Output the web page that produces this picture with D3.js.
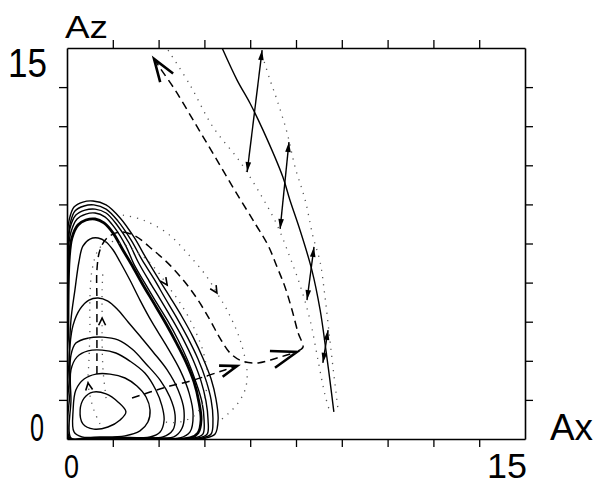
<!DOCTYPE html>
<html>
<head>
<meta charset="utf-8">
<script src="https://cdn.jsdelivr.net/npm/d3@7"></script>
<style>
  body { margin: 0; background: #fff; }
  svg { display: block; }
  text { font-family: "Liberation Sans", Arial, sans-serif; fill: #000; }
</style>
</head>
<body>
<div id="chart"></div>
<script>
// axis ticks (every 1.5) and the two labelled ends
const tickValues = [1.5, 3, 4.5, 6, 7.5, 9, 10.5, 12, 13.5];
const xTickLabels = [[0, '0'], [15, '15']];
const yTickLabels = [[0, '0'], [15, '15']];

// contour levels, inner to outer, [Ax, Az]
const contour1 = [[0.43,1.11],[0.56,1.57],[0.85,1.80],[1.28,1.73],[1.67,1.42],[1.93,1.04],[1.74,0.73],[1.34,0.46],[0.88,0.38],[0.52,0.58]];
const contour2 = [[0.23,0.27],[0.20,1.11],[0.29,1.88],[0.56,2.30],[0.95,2.49],[1.41,2.49],[1.90,2.34],[2.29,2.03],[2.59,1.61],[2.72,1.11],[2.65,0.65],[2.39,0.31],[1.90,0.12],[1.08,0.08],[0.49,0.08]];
const contour3 = [[0.13,0.04],[0.13,1.50],[0.13,2.65],[0.33,3.15],[0.69,3.38],[1.15,3.41],[1.60,3.30],[2.06,2.99],[2.55,2.53],[2.91,1.88],[3.11,1.27],[3.18,0.73],[3.05,0.27],[2.72,0.08],[1.74,0.04],[0.59,0.04]];
const contour4 = [[0.10,0.04],[0.10,1.88],[0.13,3.22],[0.29,3.68],[0.69,3.87],[1.18,3.91],[1.67,3.80],[2.13,3.45],[2.59,2.88],[3.05,2.26],[3.37,1.61],[3.54,0.92],[3.47,0.35],[3.14,0.08],[2.39,0.04],[0.75,0.04]];
const contour5 = [[0.07,0.04],[0.07,2.26],[0.10,3.61],[0.20,4.37],[0.43,4.99],[0.72,5.33],[1.02,5.41],[1.34,5.29],[1.67,4.95],[2.00,4.49],[2.39,3.95],[2.82,3.34],[3.28,2.65],[3.64,1.88],[3.83,1.11],[3.77,0.42],[3.50,0.08],[3.05,0.04],[1.08,0.04]];
const contour6 = [[0.07,0.04],[0.07,3.03],[0.13,4.57],[0.26,5.72],[0.39,6.79],[0.52,7.40],[0.75,7.67],[1.02,7.71],[1.28,7.56],[1.51,7.25],[1.74,6.79],[2.06,6.10],[2.39,5.33],[2.78,4.49],[3.24,3.61],[3.70,2.65],[4.00,1.76],[4.13,0.92],[4.03,0.27],[3.70,0.04],[1.74,0.04]];
const contour7 = [[0.03,0.04],[0.03,4.18],[0.07,6.87],[0.16,7.71],[0.36,8.21],[0.62,8.40],[0.92,8.44],[1.21,8.29],[1.51,7.90],[1.83,7.25],[2.16,6.60],[2.49,5.91],[2.82,5.26],[3.21,4.49],[3.57,3.72],[3.90,2.95],[4.16,2.19],[4.32,1.42],[4.39,0.73],[4.29,0.23],[4.03,0.04],[1.74,0.04]];
const contour8 = [[0.03,0.04],[0.03,4.18],[0.03,7.06],[0.13,7.94],[0.33,8.44],[0.62,8.63],[0.92,8.67],[1.24,8.52],[1.57,8.09],[1.93,7.40],[2.19,6.71],[2.55,5.98],[2.88,5.33],[3.28,4.57],[3.64,3.80],[3.96,2.99],[4.22,2.19],[4.42,1.42],[4.49,0.73],[4.45,0.19],[4.16,0.04],[1.74,0.04]];
const contour9 = [[0.03,0.04],[0.03,4.18],[0.03,7.25],[0.10,8.09],[0.29,8.59],[0.59,8.78],[0.92,8.82],[1.28,8.67],[1.64,8.21],[2.03,7.52],[2.33,6.79],[2.69,6.06],[3.05,5.37],[3.44,4.60],[3.80,3.84],[4.13,3.03],[4.39,2.22],[4.55,1.46],[4.62,0.73],[4.59,0.19],[4.29,0.04],[1.74,0.04]];
const contour10 = [[0.03,0.04],[0.03,4.18],[0.03,7.44],[0.10,8.25],[0.26,8.75],[0.56,8.94],[0.88,8.98],[1.28,8.82],[1.67,8.36],[2.10,7.63],[2.46,6.87],[2.85,6.14],[3.21,5.41],[3.60,4.64],[3.96,3.87],[4.29,3.07],[4.55,2.26],[4.72,1.50],[4.78,0.73],[4.72,0.19],[4.42,0.04],[1.74,0.04]];
const contour11 = [[0.0,0.04],[0.0,4.18],[0.0,7.63],[0.07,8.40],[0.23,8.90],[0.52,9.09],[0.85,9.13],[1.28,8.98],[1.74,8.48],[2.19,7.75],[2.59,6.94],[2.98,6.18],[3.37,5.45],[3.77,4.68],[4.13,3.91],[4.45,3.11],[4.72,2.30],[4.88,1.53],[4.95,0.77],[4.85,0.19],[4.55,0.04],[1.74,0.04]];

// dashed trajectories (arrow at the last point)
const dashA = [[7.57,3.38],[7.73,3.53],[7.57,4.07],[7.37,4.95],[7.14,5.83],[6.88,6.60],[6.58,7.44],[6.19,8.21],[5.53,9.47],[4.85,10.82],[4.19,12.12],[3.54,13.39],[3.05,14.23],[2.85,14.58]];
const dashB = [[0.98,2.49],[0.98,3.80],[0.98,5.33],[0.98,6.48],[1.08,7.25],[1.31,7.71],[1.74,7.94],[2.23,7.79],[2.82,7.25],[3.37,6.67],[3.86,6.02],[4.29,5.33],[4.68,4.57],[5.01,3.87],[5.34,3.30],[5.73,2.99],[6.26,2.92],[6.88,3.11],[7.53,3.34]];
const dashC = [[2.13,1.57],[2.72,1.80],[3.37,2.03],[4.03,2.22],[4.68,2.46],[5.17,2.65],[5.57,2.80]];

// solid curve and the double-headed arrows across it
const solidCurve = [[5.08,15.0],[5.57,13.77],[5.99,12.89],[6.42,11.85],[7.07,10.05],[7.30,9.17],[7.63,8.02],[8.02,6.48],[8.29,4.95],[8.48,3.41],[8.61,2.26],[8.74,1.04]];
const doubleArrows = [
  [[5.90,10.24],[6.39,14.92]],
  [[6.98,8.06],[7.27,11.39]],
  [[7.86,5.33],[8.09,7.37]],
  [[8.38,2.92],[8.55,4.18]]
];

// dotted trajectories
const dot1 = [[3.31,14.92],[4.03,13.58],[4.78,11.97],[5.67,10.63],[6.39,9.28],[6.88,8.21],[7.30,6.98],[7.63,5.91],[7.96,4.57],[8.22,3.03],[8.45,1.69],[8.61,1.04]];
const dot2 = [[6.39,14.73],[6.65,13.77],[6.88,13.00],[7.21,11.74],[7.47,10.43],[7.80,9.17],[8.06,7.75],[8.29,6.79],[8.45,5.45],[8.61,3.80],[8.74,2.46],[8.88,1.11]];
const dot3 = [[1.83,8.59],[2.49,8.40],[3.28,7.90],[3.93,7.14],[4.59,6.21],[4.91,5.60],[5.24,4.95],[5.67,3.80],[5.90,2.53],[5.83,1.88],[5.60,1.38],[5.27,0.96],[4.95,0.65]];
const dot4 = [[1.24,7.63],[1.90,7.44],[2.55,6.94],[2.98,6.41],[3.28,5.91],[3.64,5.33],[3.96,4.72],[4.26,3.99],[4.49,3.22],[4.59,2.34],[4.49,1.50],[4.19,0.92],[3.70,0.65],[3.21,0.65]];
const dot5 = [[1.08,0.58],[0.88,1.11],[0.75,1.69],[0.69,2.15],[0.72,3.03],[0.75,4.18],[0.75,5.33],[0.82,6.48],[1.02,7.25],[1.34,7.63]];
const dot6 = [[1.28,1.57],[1.18,2.65],[1.15,3.80],[1.15,4.64],[1.15,5.72],[1.18,6.48]];
// index of the point carrying a small arrowhead on each dotted line
const dotArrowAt = [null, null, 5, 4, 3, 3];

const contours = [contour1, contour2, contour3, contour4, contour5, contour6, contour7, contour8, contour9, contour10, contour11];
const dotted = [dot1, dot2, dot3, dot4, dot5, dot6];

const W = 596, H = 486;
const margin = {top: 48, right: 71, bottom: 47, left: 67};

const svg = d3.select('#chart').append('svg')
    .attr('width', W)
    .attr('height', H);

svg.append('rect').attr('width', W).attr('height', H).attr('fill', '#fff');

const x = d3.scaleLinear().domain([0, 15]).range([margin.left, W - margin.right]);
const y = d3.scaleLinear().domain([0, 15]).range([H - margin.bottom, margin.top]);

svg.append('clipPath').attr('id', 'plot')
  .append('rect')
    .attr('x', x(0)).attr('y', y(15))
    .attr('width', x(15) - x(0)).attr('height', y(0) - y(15));

const plot = svg.append('g').attr('clip-path', 'url(#plot)');

const closed = d3.line().x(d => x(d[0])).y(d => y(d[1])).curve(d3.curveCatmullRomClosed.alpha(0.5));
const open = d3.line().x(d => x(d[0])).y(d => y(d[1])).curve(d3.curveCatmullRom.alpha(0.5));

// open arrowhead: two strokes meeting at tip
function chevron(tip, from, len, spread) {
  const tx = x(tip[0]), ty = y(tip[1]);
  const a = Math.atan2(ty - y(from[1]), tx - x(from[0]));
  const p1 = [tx - len * Math.cos(a - spread), ty - len * Math.sin(a - spread)];
  const p2 = [tx - len * Math.cos(a + spread), ty - len * Math.sin(a + spread)];
  return `M${p1}L${tx},${ty}L${p2}`;
}
// filled arrowhead
function head(tip, from, len, half) {
  const tx = x(tip[0]), ty = y(tip[1]);
  const a = Math.atan2(ty - y(from[1]), tx - x(from[0]));
  const bx = tx - len * Math.cos(a), by = ty - len * Math.sin(a);
  const nx = -Math.sin(a) * half, ny = Math.cos(a) * half;
  return `M${tx},${ty}L${bx + nx},${by + ny}L${bx - nx},${by - ny}Z`;
}

// contours
plot.selectAll('path.contour')
  .data(contours)
  .enter().append('path')
    .attr('class', 'contour')
    .attr('d', closed)
    .attr('fill', 'none')
    .attr('stroke', '#000')
    .attr('stroke-width', (d, i) => i === 6 ? 2.8 : 1.4);

// dotted lines
plot.selectAll('path.dotted')
  .data(dotted)
  .enter().append('path')
    .attr('class', 'dotted')
    .attr('d', open)
    .attr('fill', 'none')
    .attr('stroke', '#555')
    .attr('stroke-width', 1.3)
    .attr('stroke-dasharray', '1.2,6');

dotted.forEach((pts, i) => {
  const k = dotArrowAt[i];
  if (k == null) return;
  plot.append('path')
    .attr('d', chevron(pts[k], pts[k - 1], 8, 0.45))
    .attr('fill', 'none')
    .attr('stroke', '#000')
    .attr('stroke-width', 1.6);
});

// dashed trajectories with big arrowheads
[[dashA, 24], [dashB, 27], [dashC, 18]].forEach(([pts, len]) => {
  plot.append('path')
    .attr('d', open(pts))
    .attr('fill', 'none')
    .attr('stroke', '#000')
    .attr('stroke-width', 1.5)
    .attr('stroke-dasharray', '8,5');
  const n = pts.length;
  plot.append('path')
    .attr('d', chevron(pts[n - 1], pts[n - 2], len, 0.33))
    .attr('fill', 'none')
    .attr('stroke', '#000')
    .attr('stroke-width', 2.6)
    .attr('stroke-linejoin', 'miter');
});

// solid curve
plot.append('path')
  .attr('d', open(solidCurve))
  .attr('fill', 'none')
  .attr('stroke', '#000')
  .attr('stroke-width', 1.4);

// double-headed arrows
doubleArrows.forEach(([a, b]) => {
  plot.append('line')
    .attr('x1', x(a[0])).attr('y1', y(a[1]))
    .attr('x2', x(b[0])).attr('y2', y(b[1]))
    .attr('stroke', '#000')
    .attr('stroke-width', 1.4);
  plot.append('path').attr('d', head(b, a, 10, 2.8)).attr('fill', '#000');
  plot.append('path').attr('d', head(a, b, 10, 2.8)).attr('fill', '#000');
});

// frame with outward ticks on all sides
const axes = [
  [d3.axisBottom(x), `translate(0,${y(0)})`],
  [d3.axisTop(x), `translate(0,${y(15)})`],
  [d3.axisLeft(y), `translate(${x(0)},0)`],
  [d3.axisRight(y), `translate(${x(15)},0)`]
];
axes.forEach(([axis, t]) => {
  const g = svg.append('g')
      .attr('transform', t)
      .call(axis.tickValues(tickValues).tickFormat('').tickSize(8).tickSizeOuter(0));
  g.select('.domain').attr('stroke-width', 1.6);
  g.selectAll('.tick line').attr('stroke-width', 1.3);
});

// tick labels
svg.append('text').attr('x', x(0) - 3).attr('y', y(0) + 39)
    .attr('font-size', 34).attr('textLength', 15).attr('lengthAdjust', 'spacingAndGlyphs')
    .text(xTickLabels[0][1]);
svg.append('text').attr('x', x(15) + 2).attr('y', y(0) + 39)
    .attr('text-anchor', 'end')
    .attr('font-size', 35).attr('textLength', 40).attr('lengthAdjust', 'spacingAndGlyphs')
    .text(xTickLabels[1][1]);
svg.append('text').attr('x', x(0) - 23).attr('y', y(yTickLabels[0][0]) + 2)
    .attr('text-anchor', 'end')
    .attr('font-size', 38).attr('textLength', 14).attr('lengthAdjust', 'spacingAndGlyphs')
    .text(yTickLabels[0][1]);
svg.append('text').attr('x', x(0) - 20).attr('y', y(yTickLabels[1][0]) + 29)
    .attr('text-anchor', 'end')
    .attr('font-size', 40).attr('textLength', 39).attr('lengthAdjust', 'spacingAndGlyphs')
    .text(yTickLabels[1][1]);

// axis titles
svg.append('text').attr('x', x(0) - 2).attr('y', y(15) - 10)
    .attr('font-size', 32).attr('textLength', 43).attr('lengthAdjust', 'spacingAndGlyphs')
    .text('Az');
svg.append('text').attr('x', x(15) + 25).attr('y', y(0) + 1)
    .attr('font-size', 37).attr('textLength', 43).attr('lengthAdjust', 'spacingAndGlyphs')
    .text('Ax');
</script>
</body>
</html>
